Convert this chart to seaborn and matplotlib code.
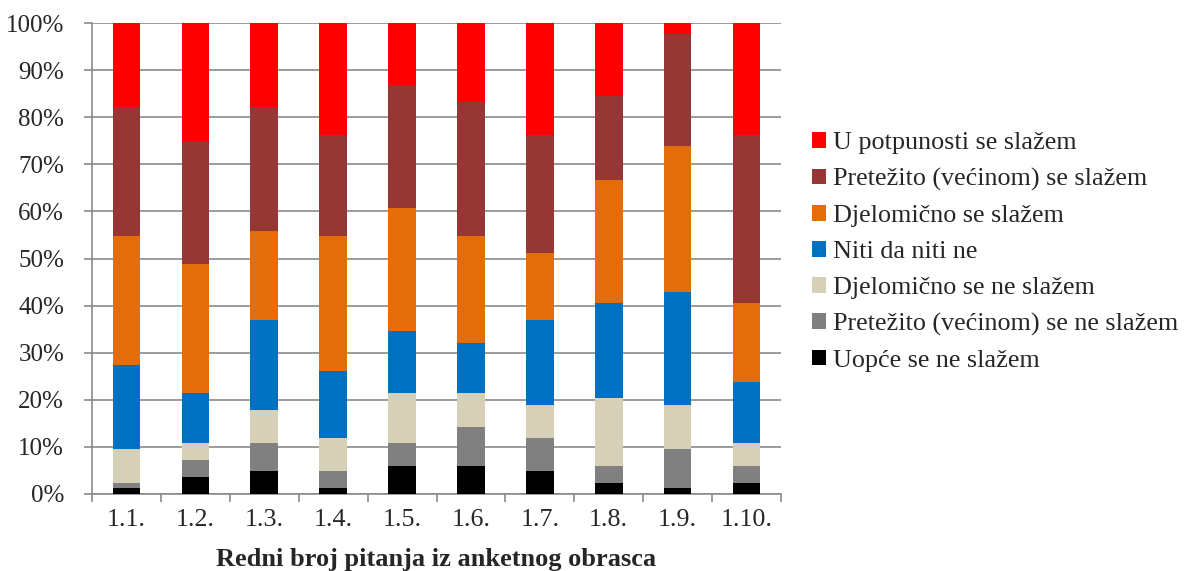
import matplotlib
matplotlib.use("Agg")
import matplotlib.pyplot as plt
from matplotlib.patches import Patch
import seaborn as sns
import pandas as pd
import numpy as np

questions = ["1.1.", "1.2.", "1.3.", "1.4.", "1.5.", "1.6.", "1.7.", "1.8.", "1.9.", "1.10."]
# percentages per answer category (bottom to top)
uopce_ne = [1.2, 3.6, 4.8, 1.2, 6.0, 6.0, 4.8, 2.4, 1.2, 2.4]
pretezito_ne = [1.2, 3.6, 6.0, 3.6, 4.8, 8.3, 7.1, 3.6, 8.3, 3.6]
djelom_ne = [7.1, 3.6, 7.1, 7.1, 10.7, 7.1, 7.1, 14.3, 9.5, 4.8]
niti = [17.9, 10.7, 19.0, 14.3, 13.1, 10.7, 17.9, 20.2, 23.8, 13.1]
djelom_da = [27.4, 27.4, 19.0, 28.6, 26.2, 22.6, 14.3, 26.2, 31.0, 16.7]
pretezito_da = [27.4, 26.2, 26.2, 21.4, 26.2, 28.6, 25.0, 17.9, 23.8, 35.7]
potpuno_da = [17.9, 25.0, 17.9, 23.8, 13.1, 16.7, 23.8, 15.5, 2.4, 23.8]

series_names = [
    "Uopće se ne slažem",
    "Pretežito (većinom) se ne slažem",
    "Djelomično se ne slažem",
    "Niti da niti ne",
    "Djelomično se slažem",
    "Pretežito (većinom) se slažem",
    "U potpunosti se slažem",
]
series_vals = [uopce_ne, pretezito_ne, djelom_ne, niti, djelom_da, pretezito_da, potpuno_da]
colors = ["#000000", "#808080", "#D6D0B6", "#0070C0", "#E46C0A", "#953735", "#FF0000"]

sns.set_style("white")
plt.rcParams["font.family"] = ["Liberation Serif", "DejaVu Serif"]

fig = plt.figure(figsize=(11.93, 5.71), dpi=100)
ax = fig.add_axes([92 / 1193, 1 - 494 / 571, (781 - 92) / 1193, (494 - 23) / 571])

vals = np.array(series_vals)
totals = vals.sum(axis=0)
pct = vals / totals * 100
cum = np.cumsum(pct, axis=0)

# draw from top layer down so lower layers overlay
for i in range(len(series_names) - 1, -1, -1):
    df = pd.DataFrame({"q": questions, "v": cum[i]})
    sns.barplot(data=df, x="q", y="v", color=colors[i], width=0.4,
                saturation=1, ax=ax, zorder=3, linewidth=0)

ax.set_ylim(0, 100)
ax.set_xlim(-0.5, len(questions) - 0.5)
ax.set_yticks(np.arange(0, 101, 10))
ax.set_yticklabels([f"{v}%" for v in range(0, 101, 10)], fontsize=18)
ax.yaxis.grid(True, color="#8A8A8A", linewidth=1.2, zorder=0)
ax.set_axisbelow(True)

# category boundary ticks, labels at centers
ax.set_xticks(np.arange(-0.5, len(questions), 1.0))
ax.set_xticklabels([])
ax.set_xticks(np.arange(len(questions)), minor=True)
ax.set_xticklabels(questions, minor=True, fontsize=18.7)
ax.tick_params(axis="x", which="major", direction="out", length=6, width=1.2,
               color="#8A8A8A", bottom=True)
ax.tick_params(axis="x", which="minor", length=0, pad=11)
ax.tick_params(axis="y", direction="out", length=6, width=1.2, color="#8A8A8A",
               left=True, pad=14)

for s in ["top", "right"]:
    ax.spines[s].set_visible(False)
for s in ["left", "bottom"]:
    ax.spines[s].set_color("#8A8A8A")
    ax.spines[s].set_linewidth(1.2)

ax.set_ylabel("")
ax.set_xlabel("Redni broj pitanja iz anketnog obrasca", fontsize=19,
              fontweight="bold", labelpad=12)

handles = [Patch(facecolor=colors[i], edgecolor="none") for i in range(len(colors) - 1, -1, -1)]
labels = [series_names[i] for i in range(len(series_names) - 1, -1, -1)]
fig.legend(handles, labels, loc="center left", bbox_to_anchor=(812 / 1193, 1 - 252 / 571),
           frameon=False, fontsize=18.8, handlelength=0.55, handleheight=0.55,
           handletextpad=0.25, labelspacing=0.53, borderpad=0, borderaxespad=0)

fig.savefig("out.png", dpi=100)
